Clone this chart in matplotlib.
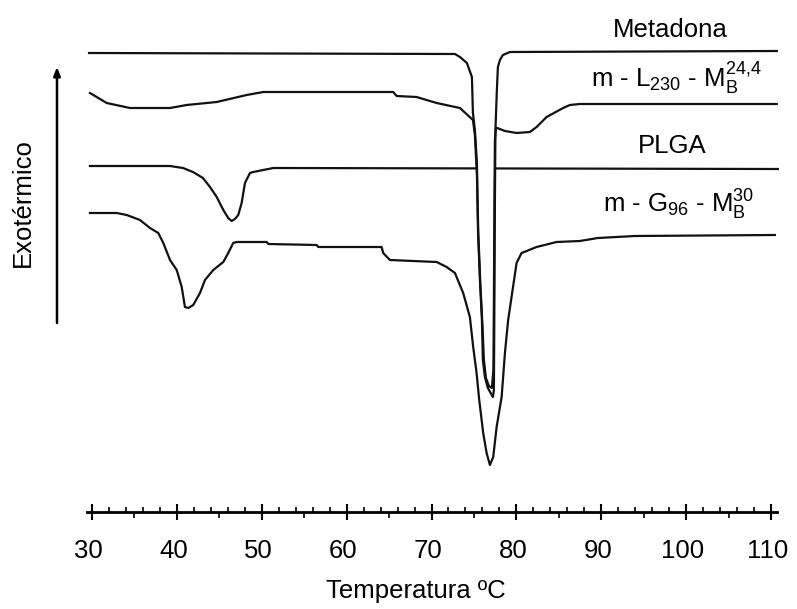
import matplotlib
matplotlib.use("Agg")
import matplotlib.pyplot as plt
from matplotlib.ticker import FixedLocator, NullFormatter
from matplotlib.transforms import ScaledTranslation

plt.rcParams['font.family'] = ['Liberation Sans', 'DejaVu Sans']
plt.rcParams['mathtext.fontset'] = 'custom'
plt.rcParams['mathtext.rm'] = 'Liberation Sans'
plt.rcParams['mathtext.it'] = 'Liberation Sans:italic'
plt.rcParams['mathtext.bf'] = 'Liberation Sans:bold'

# ---- data (temperature in ºC, heat flow in arbitrary units, exo up) ----
metadona_T = [29.65, 72.76, 73.35, 74.17, 74.76, 74.88, 75.11, 75.35, 75.47, 75.70,
              75.94, 76.05, 76.29, 76.64, 77.23, 77.35, 77.41, 77.47, 77.53, 77.70,
              77.82, 78.06, 78.41, 79.23, 110.68]
metadona_y = [45.9, 45.8, 45.5, 44.9, 43.5, 39.9, 38.2, 34.9, 28.2, 23.2,
              19.2, 15.2, 13.5, 12.4, 11.5, 12.2, 21.2, 31.2, 38.2, 42.2,
              44.5, 45.2, 45.7, 46.0, 46.1]

mL230_T = [29.76, 31.73, 34.48, 39.19, 41.15, 44.69, 48.22, 50.18, 65.49, 65.89,
           68.24, 70.60, 73.35, 74.88, 75.11, 75.35, 75.52, 75.76, 76.00, 76.17,
           76.41, 76.76, 77.11, 77.29, 77.35, 77.41, 77.47, 77.59, 77.74, 78.65,
           80.02, 81.59, 82.38, 83.56, 85.51, 86.30, 87.48, 110.68]
mL230_y = [41.9, 40.9, 40.4, 40.4, 40.7, 41.0, 41.7, 42.0, 42.0, 41.6,
           41.5, 40.9, 40.4, 39.2, 37.7, 33.7, 27.7, 22.7, 18.7, 15.2,
           13.4, 12.6, 12.4, 14.2, 21.2, 31.2, 37.2, 38.4, 38.4, 38.1,
           37.9, 38.0, 38.5, 39.5, 40.4, 40.7, 40.8, 40.8]

plga_T = [29.76, 39.19, 40.72, 41.90, 43.07, 43.90, 44.69, 45.47, 46.05, 46.45,
          46.84, 47.23, 47.63, 48.02, 48.61, 49.00, 51.36, 110.80]
plga_y = [34.6, 34.6, 34.4, 34.0, 33.4, 32.5, 31.5, 30.2, 29.4, 29.1,
          29.3, 29.7, 30.9, 32.9, 33.9, 34.0, 34.4, 34.3]

mG96_T = [29.76, 32.91, 34.09, 35.65, 36.83, 37.81, 38.40, 39.19, 39.98, 40.57,
          40.95, 41.34, 41.93, 42.72, 43.31, 44.29, 45.47, 46.05, 46.64, 47.04,
          50.58, 50.77, 56.47, 56.66, 64.12, 64.31, 65.10, 70.60, 71.78, 72.76,
          73.73, 74.52, 74.91, 75.31, 75.62, 76.09, 76.49, 76.88, 77.27, 77.67,
          78.26, 78.65, 79.03, 79.43, 80.02, 80.61, 82.38, 84.73, 87.48, 89.60,
          93.96, 110.45]
mG96_y = [29.9, 29.9, 29.7, 29.2, 28.4, 27.9, 26.9, 25.2, 24.2, 22.5,
          20.5, 20.4, 20.7, 21.9, 23.2, 24.2, 25.0, 25.9, 26.9, 27.0,
          27.0, 26.8, 26.7, 26.5, 26.5, 25.9, 25.2, 25.0, 24.5, 23.9,
          21.9, 19.5, 16.5, 13.9, 11.2, 7.9, 5.9, 4.7, 5.5, 8.5,
          11.5, 15.9, 19.2, 21.5, 24.9, 25.9, 26.5, 27.0, 27.1, 27.4,
          27.6, 27.7]

x_ticks = [30, 40, 50, 60, 70, 80, 90, 100, 110]
x_tick_labels = ['30', '40', '50', '60', '70', '80', '90', '100', '110']
minor_up_ticks = [t for t in range(30, 111, 2) if t % 10 != 0]
mid_ticks = [35, 45, 55, 65, 75, 85, 95, 105]

curve_labels = ['Metadona',
                r'm - L$_{\mathrm{230}}$ - M$_{\mathrm{B}}^{\mathrm{24{,}4}}$',
                'PLGA',
                r'm - G$_{\mathrm{96}}$ - M$_{\mathrm{B}}^{\mathrm{30}}$']
label_T = [98.1, 98.8, 98.4, 99.1]
label_y = [47.5, 42.4, 35.9, 29.9]

# ---- figure ----
fig = plt.figure(figsize=(7.97, 6.09), dpi=100)
ax = fig.add_axes([0, 0, 1, 1])
ax.set_xlim(19.16, 113.06)
ax.set_ylim(-9.7, 51.2)

lc = '#111111'
lw = 1.6
ax.plot(plga_T, plga_y, color=lc, lw=lw, zorder=1)
ax.fill_between(metadona_T, metadona_y, 46.0, color='white', zorder=2, lw=0)
ax.plot(metadona_T, metadona_y, color=lc, lw=lw, zorder=3)
ax.plot(mL230_T, mL230_y, color=lc, lw=lw, zorder=3)
ax.plot(mG96_T, mG96_y, color=lc, lw=lw, zorder=3)

fs = 18.5
for txt, tx, ty in zip(curve_labels, label_T, label_y):
    ax.text(tx, ty, txt, ha='center', va='baseline', fontsize=fs, color='black')

# spines / axis
for s in ['top', 'right', 'left']:
    ax.spines[s].set_visible(False)
ax.spines['bottom'].set_position(('data', 0))
ax.spines['bottom'].set_bounds(29.4, 110.7)
ax.spines['bottom'].set_linewidth(2.0)
ax.yaxis.set_visible(False)
ax.xaxis.set_major_locator(FixedLocator(x_ticks))
ax.set_xticklabels(x_tick_labels)
ax.xaxis.set_minor_locator(FixedLocator(minor_up_ticks))
ax.tick_params(axis='x', which='major', direction='inout', length=11.5, width=1.5,
               labelsize=fs, pad=14)
ax.tick_params(axis='x', which='minor', direction='in', length=3.6, width=1.2)
shift = ScaledTranslation(-3.5 / 100, 0, fig.dpi_scale_trans)
for lab in ax.get_xticklabels():
    lab.set_transform(lab.get_transform() + shift)

yfrac = (0 - (-9.7)) / (51.2 - (-9.7))
sec = ax.secondary_xaxis(yfrac)
for s in sec.spines.values():
    s.set_visible(False)
sec.xaxis.set_ticks_position('bottom')
sec.xaxis.set_major_locator(FixedLocator(mid_ticks))
sec.xaxis.set_major_formatter(NullFormatter())
sec.xaxis.set_minor_locator(FixedLocator([]))
sec.tick_params(axis='x', which='major', bottom=True, top=False, direction='out',
                length=4.0, width=1.2, color='black')

ax.set_xlabel('Temperatura ºC', fontsize=fs)
ax.xaxis.set_label_coords(0.522, 1 - 579 / 609)

# exothermic arrow
ax.annotate('', xy=(57 / 797, 1 - 67 / 609), xytext=(57 / 797, 1 - 323 / 609),
            xycoords='axes fraction', textcoords='axes fraction',
            arrowprops=dict(arrowstyle='-|>,head_length=0.5,head_width=0.2',
                            color='black', lw=1.8, shrinkA=0, shrinkB=0))
ax.text(23 / 797, 1 - 203 / 609, 'Exotérmico', transform=ax.transAxes,
        rotation=90, ha='center', va='center', fontsize=fs)

fig.savefig('out.png', dpi=100, facecolor='white')
